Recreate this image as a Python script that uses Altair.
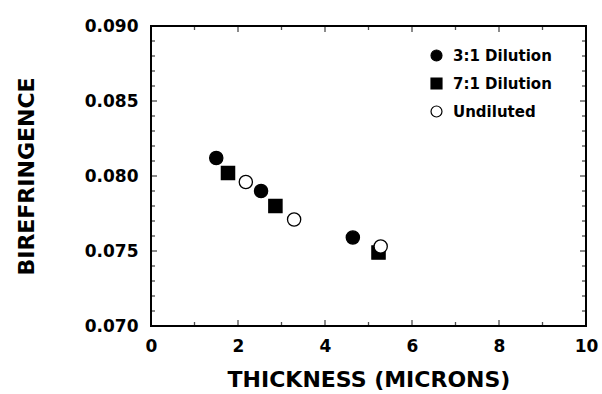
import altair as alt
import pandas as pd

# Data
series = ["3:1 Dilution", "3:1 Dilution", "3:1 Dilution",
          "7:1 Dilution", "7:1 Dilution", "7:1 Dilution",
          "Undiluted", "Undiluted", "Undiluted"]
thickness = [1.50, 2.53, 4.64,
             1.77, 2.86, 5.23,
             2.18, 3.29, 5.28]
birefringence = [0.0812, 0.0790, 0.0759,
                 0.0802, 0.0780, 0.0749,
                 0.0796, 0.0771, 0.0753]

legend_order = ["3:1 Dilution", "7:1 Dilution", "Undiluted"]
shape_range = ["circle", "square", "circle"]
fill_range = ["black", "black", "white"]
stroke_range = ["black", "black", "black"]

x_major = [0, 2, 4, 6, 8, 10]
x_minor = [1, 3, 5, 7, 9]
y_major = [0.070, 0.075, 0.080, 0.085, 0.090]
y_minor = [0.071, 0.072, 0.073, 0.074, 0.076, 0.077, 0.078, 0.079,
           0.081, 0.082, 0.083, 0.084, 0.086, 0.087, 0.088, 0.089]

W, H = 435, 300
FONT = "DejaVu Sans"

df = pd.DataFrame({"series": series, "x": thickness, "y": birefringence})

xscale = alt.Scale(domain=[0, 10], nice=False, zero=False)
yscale = alt.Scale(domain=[0.070, 0.090], nice=False, zero=False)


def make_legend():
    return alt.Legend(title=None, orient="none", legendX=278, legendY=22,
                      symbolSize=120, symbolStrokeWidth=1.2, symbolOffset=0,
                      labelFont=FONT, labelFontSize=15, labelFontWeight="bold",
                      labelColor="black", labelOffset=9, rowPadding=11)


points = alt.Chart(df).mark_point(filled=False, strokeWidth=1.3, opacity=1).encode(
    x=alt.X("x:Q", scale=xscale,
            axis=alt.Axis(title="THICKNESS (MICRONS)", values=x_major, format="d",
                          ticks=False, domain=False, grid=False, labelFlush=False,
                          labelPadding=12, titlePadding=15)),
    y=alt.Y("y:Q", scale=yscale,
            axis=alt.Axis(title="BIREFRINGENCE", values=y_major, format=".3f",
                          ticks=False, domain=False, grid=False, labelFlush=False,
                          labelPadding=13, titlePadding=46)),
    shape=alt.Shape("series:N", scale=alt.Scale(domain=legend_order, range=shape_range),
                    legend=make_legend()),
    fill=alt.Fill("series:N", scale=alt.Scale(domain=legend_order, range=fill_range),
                  legend=make_legend()),
    stroke=alt.Stroke("series:N", scale=alt.Scale(domain=legend_order, range=stroke_range),
                      legend=make_legend()),
    size=alt.value(175),
)


def yticks(vals, xpos, length):
    return alt.Chart(pd.DataFrame({"y": vals})).mark_tick(
        color="black", thickness=1.3, size=length, orient="horizontal"
    ).encode(y=alt.Y("y:Q", scale=yscale), x=alt.value(xpos))


def xticks(vals, ypos, length):
    return alt.Chart(pd.DataFrame({"x": vals})).mark_tick(
        color="black", thickness=1.3, size=length, orient="vertical"
    ).encode(x=alt.X("x:Q", scale=xscale), y=alt.value(ypos))


ticks = [
    yticks(y_major, 3, 6), yticks(y_minor, 2, 4),
    yticks(y_major, W - 3, 6), yticks(y_minor, W - 2, 4),
    xticks(x_major, H - 3, 6), xticks(x_minor, H - 2, 4),
    xticks(x_major, 3, 6), xticks(x_minor, 2, 4),
]

chart = alt.layer(*ticks, points).properties(
    width=W, height=H,
    background="white",
    autosize=alt.AutoSizeParams(type="none"),
    padding={"left": 151, "top": 26, "right": 16, "bottom": 68},
).configure_view(
    stroke="black", strokeWidth=2
).configure_axis(
    labelFont=FONT, labelFontSize=17, labelFontWeight="bold", labelColor="black",
    titleFont=FONT, titleFontSize=22, titleFontWeight="bold", titleColor="black",
)

chart.save("out.html", embed_options={"renderer": "svg", "actions": False})
